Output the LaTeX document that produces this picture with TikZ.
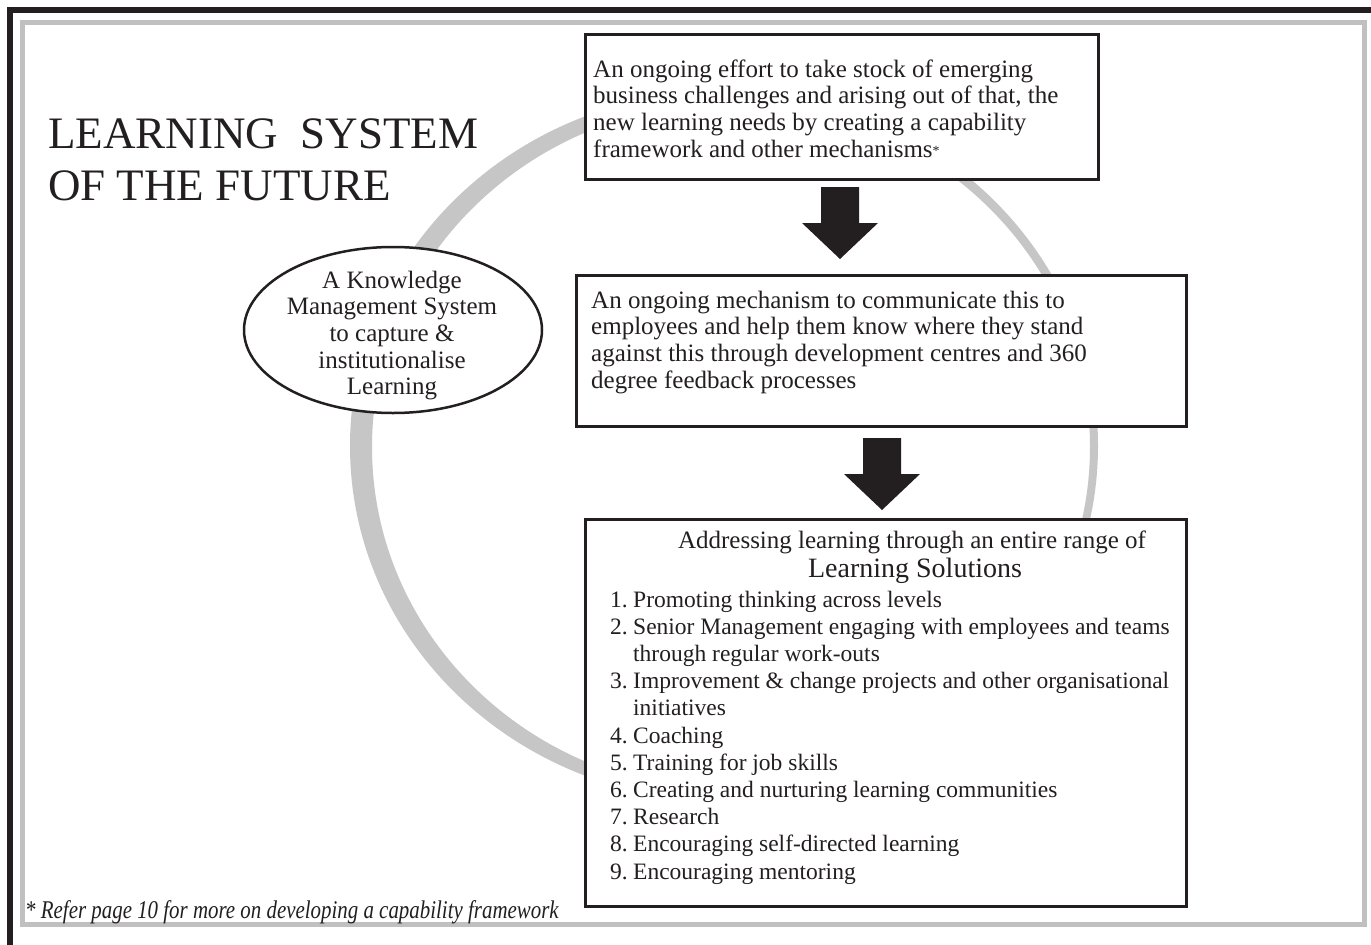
\documentclass[tikz,border=0pt]{standalone}
\usepackage{fontspec}
\usepackage{graphicx}
\setmainfont{Liberation Serif}
\usetikzlibrary{shapes.geometric}
\definecolor{ink}{HTML}{231F20}
\definecolor{ringgray}{HTML}{C6C6C6}
\definecolor{framegray}{HTML}{C0C0C0}
\tikzset{
  panel/.style={draw=ink, line width=3pt, fill=white, inner sep=0pt, anchor=north west},
  body/.style={inner sep=0pt, anchor=base west, text=ink, font=\fontsize{25}{26.7}\selectfont},
  blockarrow/.style={fill=ink}
}
\begin{document}
\begin{tikzpicture}[x=1pt,y=-1pt]
\useasboundingbox (0,0) rectangle (1371,945);
\fill[white] (0,0) rectangle (1371,945);
% frame
\draw[framegray, line width=5pt] (22.5,22.5) rectangle (1364.5,924.5);
\draw[ink, line width=6pt] (10,945) -- (10,10) -- (1371,10);
% ring
\fill[ringgray, even odd rule] (724,446) ellipse [x radius=374pt, y radius=355pt]
                               (731,447) ellipse [x radius=359pt, y radius=344pt];
% boxes
\node[panel, minimum width=513pt, minimum height=145pt] (b1) at (584,33) {};
\node[panel, minimum width=610pt, minimum height=151pt] (b2) at (575,274) {};
\node[panel, minimum width=601pt, minimum height=387pt] (b3) at (584,518) {};
\node[draw=ink, line width=2.5pt, fill=white, ellipse, inner sep=0pt,
      minimum width=298pt, minimum height=166pt] (km) at (393,330) {};
% block arrows
\fill[blockarrow] (821,187) -- (859,187) -- (859,223) -- (878,223) -- (840,259)
                  -- (802,223) -- (821,223) -- cycle;
\fill[blockarrow] (863,438) -- (901,438) -- (901,474) -- (920,474) -- (882,510)
                  -- (844,474) -- (863,474) -- cycle;
% title
\node[anchor=base west, inner sep=0pt, text=ink, font=\fontsize{45}{52}\selectfont] (title) at (48,148)
  {\parbox[t]{500pt}{LEARNING\ \ SYSTEM\\OF THE FUTURE}};
% box texts
\node[body] (t1) at (593,77) {\parbox[t]{495pt}{An ongoing effort to take stock of emerging\\
business challenges and arising out of that, the\\
new learning needs by creating a capability\\
framework and other mechanisms\raisebox{2pt}{\fontsize{14}{14}\selectfont *}}};
\node[body] (t2) at (591,308) {\parbox[t]{590pt}{An ongoing mechanism to communicate this to\\
employees and help them know where they stand\\
against this through development centres and 360\\
degree feedback processes}};
\node[body, anchor=base] (h3) at (912,548) {Addressing learning through an entire range of};
\node[body, anchor=base, font=\fontsize{28}{30}\selectfont] (h4) at (915,577) {Learning Solutions};
\node[body, font=\fontsize{23.5}{27.2}\selectfont] (t3) at (610,607) {\parbox[t]{700pt}{%
\makebox[23pt][l]{1.}Promoting thinking across levels\\
\makebox[23pt][l]{2.}Senior Management engaging with employees and teams\\
\hspace*{23pt}through regular work-outs\\
\makebox[23pt][l]{3.}Improvement \& change projects and other organisational\\
\hspace*{23pt}initiatives\\
\makebox[23pt][l]{4.}Coaching\\
\makebox[23pt][l]{5.}Training for job skills\\
\makebox[23pt][l]{6.}Creating and nurturing learning communities\\
\makebox[23pt][l]{7.}Research\\
\makebox[23pt][l]{8.}Encouraging self-directed learning\\
\makebox[23pt][l]{9.}Encouraging mentoring}};
% ellipse text
\node[body, anchor=base] (tk) at (392,288) {\parbox[t]{280pt}{\centering A Knowledge\\
Management System\\to capture \&\\institutionalise\\Learning}};
% footnote
\node[anchor=base west, inner sep=0pt, text=ink, font=\itshape\fontsize{25.5}{25.5}\selectfont] (fn) at (25,918)
  {\scalebox{0.82}[1]{* Refer page 10 for more on developing a capability framework}};
\end{tikzpicture}
\end{document}
